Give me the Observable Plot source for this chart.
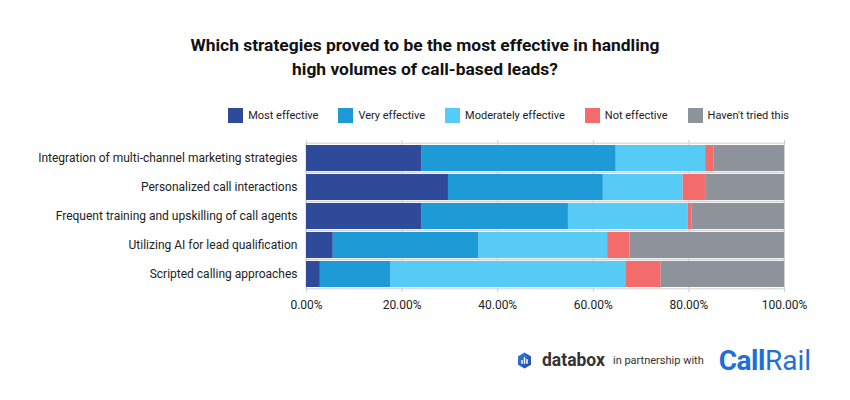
<!DOCTYPE html>
<html><head><meta charset="utf-8">
<script src="https://cdn.jsdelivr.net/npm/d3@7"></script>
<script src="https://cdn.jsdelivr.net/npm/@observablehq/plot@0.6"></script>
<style>
body{margin:0;background:#fff;font-family:Roboto,"Noto Sans",sans-serif;width:850px;overflow:hidden}
#title{height:100px;box-sizing:border-box;padding-top:33px;text-align:center;font-weight:bold;font-size:17.4px;line-height:24px;color:#111}
#legend{height:30px;display:flex;justify-content:flex-end;align-items:center;padding-right:61px;gap:20px;font-size:11px;color:#222}
#legend .it{display:flex;align-items:center}
#legend .sw{width:15px;height:15px;margin-right:5px}
#footer{height:60px;display:flex;justify-content:flex-end;align-items:center;padding-right:39px;color:#333}
</style></head><body>
<div id="title">Which strategies proved to be the most effective in handling<br>high volumes of call-based leads?</div>
<div id="legend"></div>
<div id="chart"></div>
<div id="footer">
  <svg width="13" height="17" viewBox="0 0 14 17" style="margin-right:11px"><defs><linearGradient id="lg" x1="0" y1="0" x2="1" y2="1"><stop offset="0" stop-color="#3a7be0"/><stop offset="1" stop-color="#2249a8"/></linearGradient></defs><path d="M7 0L14 4V13L7 17L0 13V4Z" fill="url(#lg)"/><rect x="3.5" y="8" width="1.6" height="4" fill="#fff"/><rect x="6.2" y="5" width="1.6" height="7" fill="#fff"/><rect x="8.9" y="7" width="1.6" height="5" fill="#fff"/></svg>
  <span style="font-weight:bold;font-size:17.5px;color:#333;margin-right:8px">databox</span>
  <span style="font-size:11px;color:#333;margin-right:15px">in partnership with</span>
  <span style="font-size:28px;color:#1e6fd9;font-weight:bold;letter-spacing:-0.5px">Call</span><span style="font-size:28px;color:#1e6fd9;">Rail</span>
</div>
<script>
const categories = [
  "Integration of multi-channel marketing strategies",
  "Personalized call interactions",
  "Frequent training and upskilling of call agents",
  "Utilizing AI for lead qualification",
  "Scripted calling approaches"
];
const seriesNames = ["Most effective","Very effective","Moderately effective","Not effective","Haven't tried this"];
const colors = ["#2e4a99","#1e9ad6","#55cbf5","#f46b6b","#8e939b"];
const mostEffective = [24.2, 29.7, 24.2, 5.6, 2.9];
const veryEffective = [40.6, 32.4, 30.6, 30.5, 14.8];
const moderatelyEffective = [18.7, 16.7, 25.0, 26.9, 49.1];
const notEffective = [1.8, 4.7, 0.9, 4.7, 7.4];
const haventTried = [14.7, 16.5, 19.3, 32.3, 25.8];
const xTicks = [0, 20, 40, 60, 80, 100];

const seriesValues = [mostEffective, veryEffective, moderatelyEffective, notEffective, haventTried];
const data = [];
categories.forEach((c, i) => seriesNames.forEach((s, j) => data.push({category: c, series: s, value: seriesValues[j][i]})));

const leg = document.getElementById("legend");
seriesNames.forEach((s, j) => {
  const it = document.createElement("div"); it.className = "it";
  it.innerHTML = `<div class="sw" style="background:${colors[j]}"></div><span>${s}</span>`;
  leg.appendChild(it);
});

const fmt = d => d.toFixed(2) + "%";
const chart = Plot.plot({
  width: 850, height: 200,
  marginTop: 10, marginBottom: 38, marginLeft: 306, marginRight: 66,
  style: {fontFamily: "Roboto, 'Noto Sans', sans-serif", fontSize: "12px", color: "#222"},
  x: {domain: [0, 100], ticks: xTicks, tickFormat: fmt, label: null},
  y: {domain: categories, label: null, padding: 0.12},
  color: {domain: seriesNames, range: colors},
  marks: [
    Plot.barX(categories, {x1: 0, x2: 100, y: d => d, fill: "none", stroke: "#d0d0d0", strokeWidth: 1, insetTop: -1.8, insetBottom: -1.8}),
    Plot.gridX(xTicks, {stroke: "#d0d0d0", strokeOpacity: 1}),
    Plot.barX(data, Plot.stackX({x: "value", y: "category", fill: "series", order: seriesNames})),
    Plot.axisX({ticks: xTicks, tickFormat: fmt, tickSize: 0, tickPadding: 8, fontSize: 12}),
    Plot.axisY({tickSize: 0, tickPadding: 9, fontSize: 12})
  ]
});
document.getElementById("chart").appendChild(chart);
</script>
</body></html>
